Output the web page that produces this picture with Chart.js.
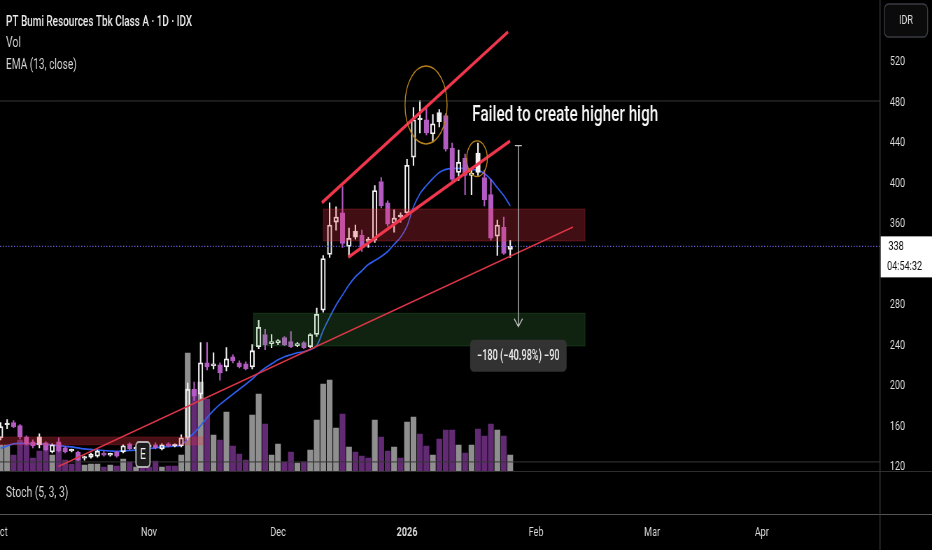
<!DOCTYPE html>
<html>
<head>
<meta charset="utf-8">
<script src="https://cdn.jsdelivr.net/npm/chart.js@4.4.1/dist/chart.umd.min.js"></script>
<style>
  html, body { margin: 0; padding: 0; background: #000; overflow: hidden; width: 932px; height: 550px; }
  /* the reference screenshot is squeezed horizontally, so draw wide and squeeze */
  #wrap { width: 1332px; height: 550px; transform: scaleX(0.6997); transform-origin: 0 0; }
</style>
</head>
<body>
<div id="wrap"><canvas id="chart"></canvas></div>
<script>
// daily bars, index 0 = 1 Oct 2025
const opens = [149,162,164,161,150,145,150,144,135,145, 139,137,135,129,130,131,134,132,135,135,
  143,138,139,141,142,138,143,142,141,149, 197,192,223,220,221,219,229,223,222,219,
  239,251,242,243,248,244,240,243,239,251, 275,330,362,371,338,353,349,345,344,402,
  381,361,369,371,426,464,463,449,470,467, 435,411,425,408,430,406,389,348,357,335];
const highs = [164,167,166,162,151,147,153,145,143,149, 140,138,136,131,134,137,136,134,136,142,
  144,141,140,142,144,143,144,143,152,203, 204,243,243,233,223,238,231,225,224,241,
  265,256,251,246,249,254,243,244,252,277, 329,381,377,397,356,359,354,347,398,406,
  383,374,371,424,475,482,475,468,473,469, 440,433,429,414,440,413,404,364,367,344];
const lows = [147,158,159,148,142,139,139,136,134,135, 134,135,126,127,129,130,131,131,130,134,
  137,136,137,137,138,137,140,140,140,147, 186,188,216,217,206,215,223,218,216,217,
  237,236,238,241,240,238,239,237,238,249, 273,327,354,337,328,345,333,337,342,376,
  358,352,362,368,418,450,448,441,456,432, 402,403,389,389,408,378,344,329,330,327];
const closes = [160,163,160,150,143,141,142,137,142,136, 135,136,127,130,133,136,132,133,131,141,
  138,139,138,140,139,142,141,141,149,197, 190,223,219,222,213,227,225,219,217,235,
  258,241,244,245,241,239,242,238,251,271, 326,359,367,341,346,347,337,343,393,378,
  360,366,367,418,463,463,450,459,461,434, 404,421,408,410,411,384,346,359,331,338];
// volume, millions of shares
const volumes = [1300,1300,800,1550,1400,650,1000,1400,800,1350, 550,350,700,300,350,350,200,300,250,600,
  450,200,250,200,500,200,250,250,800,5900, 4050,4450,3600,1800,1550,2950,1250,850,550,2800,
  3850,2350,800,1350,450,950,400,450,1050,2550, 4350,4550,2150,2850,1200,950,750,650,2550,1700,
  1000,1200,650,2450,2700,1850,1250,800,1600,2050, 2050,1300,900,1300,2100,1750,2350,2050,1750,800];
// EMA (13, close)
const ema13 = [138.6,141,143,143.5,143.5,143,143,142.5,142,141.5, 140.5,140,139,138,137.5,137,136.5,136,135.5,136,
  136.5,137,138,138.5,139,140,140.5,141,142,148, 154,161,169,176,182,187,192,197,202,207,
  213,218,222,226,229,231,233,234,236,240, 255,268,280,290,300,308,314,320,324,328,
  333,340,347,358,377,390,398,405,411,414, 415,415,415,414,413,410,404,396,388,378];

const monthTickIdx = [0, 23, 43, 63, 83, 101, 118];
const monthTickLabels = ['Oct', 'Nov', 'Dec', '2026', 'Feb', 'Mar', 'Apr'];
const priceTicks = [120, 160, 200, 240, 280, 320, 360, 400, 440, 480, 520];

// drawings, in [bar index, price]
const channelUpper = [[49.8, 381.1], [78.66, 549.8]];
const channelLower = [[53.9, 327.2], [78.97, 442]];
const trendLine = [[8.94, 120.6], [88.74, 357.1]];
const supplyZone = [[50.0, 374.9], [90.6, 343.3]];
const demandZone = [[39.2, 272], [90.6, 239.7]];
const oldZone = [[-0.1, 149.9], [31.4, 142]];
const levelLines = [481.5, 125.2];
const topCircle = { center: [65.95, 477.6], rx: 3.26, ry: 38.5 };
const retestCircle = { center: [73.85, 424.5], rx: 1.6, ry: 17.6 };
const measure = { x: 80.26, from: 437.4, to: 258.7, label: '\u2212180 (\u221240.98%) \u221290' };
const note = { at: [73.1, 466.7], text: 'Failed to create higher high' };
const earningsIdx = 22.07;

const WHITE = '#f2f2f2', PURPLE = '#b35bc2', VOL_UP = '#8f8f8f', VOL_DOWN = '#622a73';
const FONT = 'Roboto';

const isUp = i => i === 0 ? closes[0] >= opens[0] : closes[i] >= closes[i - 1];
const candleColor = i => isUp(i) ? WHITE : PURPLE;
const hollow = i => closes[i] > opens[i];

function fitText(ctx, text, x, y, w) {
  const m = ctx.measureText(text).width;
  ctx.save();
  ctx.translate(x, y);
  ctx.scale(w / m, 1);
  ctx.fillText(text, 0, 0);
  ctx.restore();
}

const drawings = {
  id: 'drawings',
  afterDatasetsDraw(chart) {
    const { ctx, chartArea: a, scales } = chart;
    const X = v => scales.x.getPixelForValue(v);
    const Y = v => scales.y.getPixelForValue(v);
    const unitX = X(1) - X(0);
    ctx.save();
    ctx.beginPath();
    ctx.rect(a.left, a.top, a.right - a.left, a.bottom - a.top);
    ctx.clip();

    ctx.strokeStyle = '#363636';
    ctx.lineWidth = 1;
    levelLines.forEach(p => {
      ctx.beginPath(); ctx.moveTo(a.left, Y(p)); ctx.lineTo(a.right, Y(p)); ctx.stroke();
    });

    const zone = (z, fill, edge) => {
      const x0 = X(z[0][0]), x1 = X(z[1][0]), y0 = Y(z[0][1]), y1 = Y(z[1][1]);
      ctx.fillStyle = fill;
      ctx.fillRect(x0, y0, x1 - x0, y1 - y0);
      ctx.strokeStyle = edge;
      ctx.strokeRect(x0, y0, x1 - x0, y1 - y0);
    };
    zone(supplyZone, 'rgba(242,54,69,0.27)', 'rgba(242,54,69,0.25)');
    zone(demandZone, 'rgba(76,175,80,0.2)', 'rgba(76,175,80,0.2)');
    zone(oldZone, 'rgba(242,54,69,0.3)', 'rgba(242,54,69,0.2)');

    // last price line
    const last = closes[closes.length - 1];
    ctx.setLineDash([1.5, 2.5]);
    ctx.strokeStyle = '#6c62dc';
    ctx.lineWidth = 1.2;
    ctx.beginPath(); ctx.moveTo(a.left, Y(last)); ctx.lineTo(a.right, Y(last)); ctx.stroke();
    ctx.setLineDash([]);

    const seg = (s, color, w) => {
      ctx.strokeStyle = color; ctx.lineWidth = w;
      ctx.beginPath(); ctx.moveTo(X(s[0][0]), Y(s[0][1])); ctx.lineTo(X(s[1][0]), Y(s[1][1])); ctx.stroke();
    };
    seg(trendLine, '#dd3646', 1.6);
    seg(channelUpper, '#f0364d', 3.4);
    seg(channelLower, '#f0364d', 3.4);

    ctx.strokeStyle = '#b8821a';
    ctx.lineWidth = 1.4;
    [topCircle, retestCircle].forEach(c => {
      ctx.beginPath();
      ctx.ellipse(X(c.center[0]), Y(c.center[1]), c.rx * unitX, Math.abs(Y(0) - Y(c.ry)), 0, 0, Math.PI * 2);
      ctx.stroke();
    });

    // price range measure
    const mx = X(measure.x), my0 = Y(measure.from), my1 = Y(measure.to);
    ctx.strokeStyle = '#bdbdbd';
    ctx.lineWidth = 1.4;
    ctx.beginPath();
    ctx.moveTo(mx - 5, my0); ctx.lineTo(mx + 5, my0);
    ctx.moveTo(mx, my0); ctx.lineTo(mx, my1);
    ctx.moveTo(mx - 6, my1 - 8); ctx.lineTo(mx, my1); ctx.lineTo(mx + 6, my1 - 8);
    ctx.stroke();
    ctx.fillStyle = 'rgba(52,52,52,0.96)';
    ctx.beginPath();
    ctx.roundRect(mx - 69, my1 + 13, 138, 32, 5);
    ctx.fill();
    ctx.fillStyle = '#f0f0f0';
    ctx.font = `500 14px ${FONT}`;
    ctx.textBaseline = 'middle';
    const lw = 118;
    fitText(ctx, measure.label, mx - lw / 2, my1 + 29.5, lw);

    // note
    ctx.fillStyle = '#f4f4f4';
    ctx.font = `500 22px ${FONT}`;
    fitText(ctx, note.text, X(note.at[0]), Y(note.at[1]), 266);

    // earnings marker
    const ex = X(earningsIdx);
    ctx.fillStyle = '#1c1c1c';
    ctx.strokeStyle = '#b0b0b0';
    ctx.lineWidth = 2;
    ctx.beginPath();
    ctx.roundRect(ex - 10, a.bottom - 29, 20, 25, 4);
    ctx.fill(); ctx.stroke();
    ctx.fillStyle = '#f0f0f0';
    ctx.font = `15px ${FONT}`;
    ctx.textAlign = 'center';
    ctx.fillText('E', ex, a.bottom - 16);
    ctx.restore();
  },
  afterDraw(chart) {
    const { ctx, chartArea: a, scales, width, height } = chart;
    const Y = v => scales.y.getPixelForValue(v);
    ctx.save();
    // stochastic pane (empty)
    ctx.fillStyle = '#000';
    ctx.fillRect(0, a.bottom, width, 514 - a.bottom);
    ctx.lineWidth = 1;
    ctx.strokeStyle = '#2e2e2e';
    ctx.beginPath(); ctx.moveTo(0, a.bottom + 0.5); ctx.lineTo(width, a.bottom + 0.5); ctx.stroke();
    ctx.strokeStyle = '#555';
    ctx.beginPath(); ctx.moveTo(0, 514.5); ctx.lineTo(width, 514.5); ctx.stroke();
    ctx.strokeStyle = '#3a3a3a';
    ctx.lineWidth = 1.4;
    ctx.beginPath(); ctx.moveTo(a.right, 0); ctx.lineTo(a.right, height); ctx.stroke();

    // legend
    ctx.textBaseline = 'middle';
    ctx.textAlign = 'left';
    ctx.fillStyle = '#ececec';
    ctx.font = `500 15px ${FONT}`;
    fitText(ctx, 'PT Bumi Resources Tbk Class A \u00b7 1D \u00b7 IDX', 8.6, 22, 266);
    ctx.fillStyle = '#d6d6d6';
    ctx.font = `15px ${FONT}`;
    ctx.fillText('Vol', 8.6, 43);
    fitText(ctx, 'EMA (13, close)', 8.6, 65, 101);
    fitText(ctx, 'Stoch (5, 3, 3)', 8.6, 493, 89);

    // last price label
    const last = closes[closes.length - 1];
    const ly = Y(last);
    ctx.fillStyle = '#ffffff';
    ctx.fillRect(a.right + 1, ly - 10, width - a.right, 41);
    ctx.fillStyle = '#111';
    ctx.font = `13px ${FONT}`;
    ctx.fillText(String(last), a.right + 12, ly + 0.5);
    ctx.fillText('04:54:32', a.right + 10, ly + 20);

    // currency button
    ctx.strokeStyle = '#3a3d44';
    ctx.fillStyle = '#0b0b0b';
    ctx.lineWidth = 1.4;
    ctx.beginPath();
    ctx.roundRect(a.right + 6, 4, 62, 33, 6);
    ctx.fill(); ctx.stroke();
    ctx.fillStyle = '#dcdcdc';
    ctx.textAlign = 'center';
    ctx.fillText('IDR', a.right + 37, 21);
    ctx.restore();
  }
};

const idx = closes.map((_, i) => i);

new Chart(document.getElementById('chart'), {
  type: 'bar',
  data: {
    datasets: [
      {
        label: 'Body',
        order: 1,
        grouped: false,
        yAxisID: 'y',
        barThickness: 6.6,
        minBarLength: 1.6,
        borderSkipped: false,
        borderWidth: { left: 1.5, right: 1.5, top: 1.1, bottom: 1.1 },
        data: idx.map(i => ({ x: i, y: [opens[i], closes[i]] })),
        backgroundColor: c => hollow(c.dataIndex) ? 'rgba(0,0,0,0)' : candleColor(c.dataIndex),
        borderColor: c => candleColor(c.dataIndex)
      },
      {
        label: 'Upper wick',
        order: 2,
        grouped: false,
        yAxisID: 'y',
        barThickness: 1.5,
        data: idx.map(i => ({ x: i, y: [Math.max(opens[i], closes[i]), highs[i]] })),
        backgroundColor: c => candleColor(c.dataIndex)
      },
      {
        label: 'Lower wick',
        order: 2,
        grouped: false,
        yAxisID: 'y',
        barThickness: 1.5,
        data: idx.map(i => ({ x: i, y: [lows[i], Math.min(opens[i], closes[i])] })),
        backgroundColor: c => candleColor(c.dataIndex)
      },
      {
        type: 'line',
        label: 'EMA (13, close)',
        order: 3,
        yAxisID: 'y',
        data: idx.map(i => ({ x: i, y: ema13[i] })),
        borderColor: '#2f5ff0',
        borderWidth: 1.7,
        pointRadius: 0,
        tension: 0.35
      },
      {
        label: 'Vol',
        order: 5,
        grouped: false,
        yAxisID: 'yv',
        barThickness: 7.6,
        data: idx.map(i => ({ x: i, y: volumes[i] })),
        backgroundColor: c => closes[c.dataIndex] >= opens[c.dataIndex] ? VOL_UP : VOL_DOWN
      }
    ]
  },
  options: {
    responsive: true,
    maintainAspectRatio: false,
    animation: false,
    events: [],
    layout: { padding: 0, autoPadding: false },
    plugins: { legend: { display: false }, tooltip: { enabled: false } },
    scales: {
      x: {
        type: 'linear',
        min: -0.1,
        max: 136.33,
        offset: false,
        grid: { display: false, drawTicks: false },
        border: { display: false },
        afterBuildTicks: s => { s.ticks = monthTickIdx.map(v => ({ value: v })); },
        afterFit: s => { s.height = 79; s.paddingLeft = 0; s.paddingRight = 0; },
        ticks: {
          autoSkip: false,
          maxRotation: 0,
          padding: 54,
          color: '#d8d8d8',
          font: c => ({ family: FONT, size: 13, weight: c.index === 3 ? 'bold' : 'normal' }),
          callback: (v, i) => monthTickLabels[i]
        }
      },
      y: {
        position: 'right',
        min: 116.25,
        max: 581.2,
        grid: { display: false, drawTicks: false },
        border: { display: false },
        afterBuildTicks: s => { s.ticks = priceTicks.map(v => ({ value: v })); },
        afterFit: s => { s.width = 74.3; s.paddingTop = 0; s.paddingBottom = 0; },
        ticks: {
          padding: 14,
          color: '#dcdcdc',
          font: { family: FONT, size: 13 },
          callback: v => String(v)
        }
      },
      yv: {
        display: false,
        min: 0,
        max: 23550
      }
    }
  },
  plugins: [drawings]
});
</script>
</body>
</html>
